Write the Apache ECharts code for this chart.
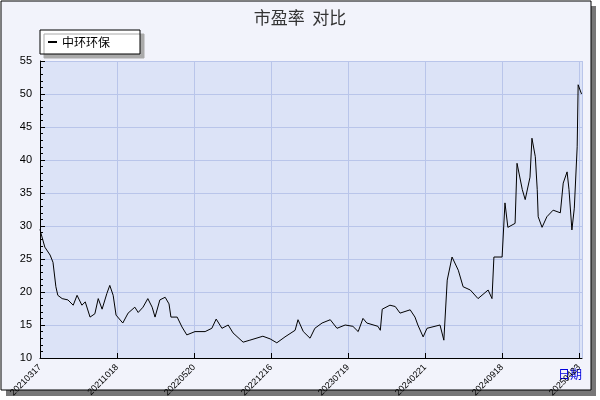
<!DOCTYPE html>
<html><head><meta charset="utf-8">
<script src="https://cdn.jsdelivr.net/npm/echarts@6/dist/echarts.min.js"></script>
<style>html,body{margin:0;padding:0;background:#fff}#c{width:600px;height:400px}</style>
</head><body><div id="c"></div>
<script>
const tickLabels=['20210317','20211018','20220520','20221216','20230719','20240221','20240918','20250423'];
const tickStep=160;
const dayIndex=[0,2,10,21,27,33,37,46,58,69,77,87,94,104,114,121,129,139,145,152,158,172,183,197,204,214,224,233,239,249,260,268,272,285,295,305,322,343,357,366,378,391,401,422,436,463,478,492,509,530,536,547,561,571,586,603,617,634,650,661,671,679,702,707,711,727,738,748,769,779,785,796,804,831,839,846,856,869,879,894,910,931,939,943,960,966,972,987,991,1002,1008,1018,1022,1029,1033,1035,1043,1053,1066,1081,1087,1095,1099,1105,1110,1114,1116,1118,1122,1125];
const peValues=[29.5,28.9,26.8,25.6,24.5,20.8,19.5,19,18.8,18,19.5,18,18.5,16.2,16.7,19,17.4,19.8,21,19.5,16.5,15.3,16.8,17.7,16.9,17.7,19,17.7,16.2,18.8,19.2,18.2,16.2,16.2,14.7,13.5,14,14,14.5,15.9,14.5,15,13.8,12.4,12.7,13.3,12.9,12.3,13.2,14.2,15.8,14,13,14.5,15.3,15.8,14.5,15,14.8,14,16,15.3,14.8,14.2,17.4,18,17.8,16.8,17.3,16.2,15,13.2,14.5,15,12.7,21.8,25.3,23.3,20.8,20.3,19,20.3,19,25.3,25.3,33.5,29.8,30.4,39.5,35.5,34,37.4,43.3,40.5,35.5,31.4,29.8,31.4,32.4,32,36.5,38.2,35.5,29.4,32.7,32.7,42,51.4,50.6,50];
const seriesName='中环环保';
const data=dayIndex.map((d,i)=>[d,peValues[i]]);
const chart=echarts.init(document.getElementById('c'));
chart.setOption({
  animation:false,
  backgroundColor:'#fff',
  graphic:[
    {type:'rect',shape:{x:6,y:6,width:590,height:390},style:{fill:'#777'},z:-10},
    {type:'rect',shape:{x:1,y:1,width:590,height:389},style:{fill:'#f2f3fb',stroke:'#000',lineWidth:1},z:-9},
    {type:'text',left:558,top:368,style:{text:'日期',fill:'#0000dd',font:'12px "Noto Sans CJK SC"'}}
  ],
  title:{text:'市盈率  对比',left:'center',top:4,textStyle:{fontSize:17,fontWeight:'normal',color:'#333',fontFamily:'"Noto Sans CJK SC"'}},
  legend:{left:40,top:30,padding:[6,30,6,8],backgroundColor:'#fff',borderColor:'#000',borderWidth:1,
    shadowColor:'#aaa',shadowOffsetX:4,shadowOffsetY:4,shadowBlur:0,
    icon:'rect',itemWidth:9,itemHeight:2,itemGap:5,
    textStyle:{fontSize:12,color:'#000',fontFamily:'"Noto Sans CJK SC"'},data:[seriesName]},
  grid:{left:40,right:18,top:61,bottom:42,show:true,backgroundColor:'#dce3f7',borderWidth:0},
  xAxis:{type:'value',min:0,max:1126,interval:tickStep,
    axisLine:{lineStyle:{color:'#000'}},axisTick:{show:true,inside:true,length:5,lineStyle:{color:'#000'}},
    splitLine:{show:true,lineStyle:{color:'#b9c5ea'}},
    axisLabel:{rotate:45,fontSize:9,color:'#000',margin:8,formatter:v=>tickLabels[Math.round(v/tickStep)]||''}},
  yAxis:{type:'value',min:10,max:55,interval:5,
    axisLine:{show:true,lineStyle:{color:'#000'}},axisTick:{show:true,inside:true,length:5,lineStyle:{color:'#000'}},
    minorTick:{show:true,splitNumber:5,length:3,lineStyle:{color:'#000'}},
    splitLine:{show:true,lineStyle:{color:'#b9c5ea'}},
    axisLabel:{fontSize:11,color:'#000',margin:8}},
  series:[{name:seriesName,type:'line',data:data,showSymbol:false,lineStyle:{color:'#000',width:1},itemStyle:{color:'#000'}}]
});
</script></body></html>
